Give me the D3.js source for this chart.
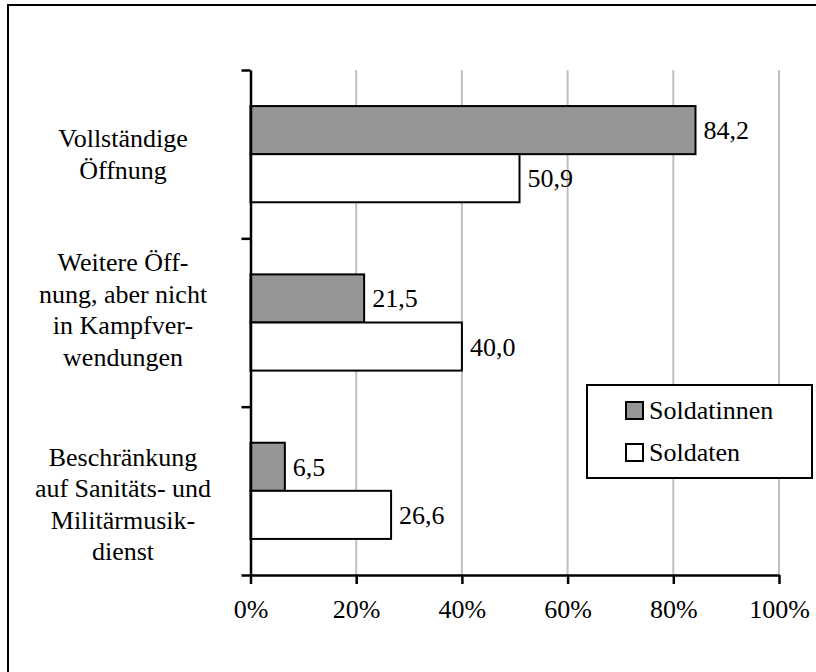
<!DOCTYPE html>
<html>
<head>
<meta charset="utf-8">
<script src="https://cdn.jsdelivr.net/npm/d3@7"></script>
</head>
<body style="margin:0">
<script>
// data
var categories = ["Vollständige Öffnung", "Weitere Öffnung", "Beschränkung"];
var categoryLines = [
  ["Vollständige", "Öffnung"],
  ["Weitere Öff-", "nung, aber nicht", "in Kampfver-", "wendungen"],
  ["Beschränkung", "auf Sanitäts- und", "Militärmusik-", "dienst"]
];
var seriesNames = ["Soldatinnen", "Soldaten"];
var soldatinnen = [84.2, 21.5, 6.5];
var soldaten = [50.9, 40.0, 26.6];
var xTicks = [0, 20, 40, 60, 80, 100];

var seriesColors = ["#969696", "#ffffff"];
var labelShift = [0, -13, 13];   // excel puts the long labels a bit off centre

var width = 816, height = 672;
var plot = {left: 250.5, right: 779, top: 70, bottom: 575};
var fontSize = 26, lineH = 31.5;

function serifText(sel) {
  sel.style("font-family", '"Times New Roman"')
    .style("font-size", fontSize + "px");
}

var svg = d3.select("body").append("svg")
  .attr("width", width)
  .attr("height", height);

// outer frame (only top and left edge are in the picture)
svg.append("rect")
  .attr("x", 8).attr("y", 5)
  .attr("width", 900).attr("height", 800)
  .attr("fill", "#fff")
  .attr("stroke", "#000")
  .attr("stroke-width", 2);

var xScale = d3.scaleLinear()
  .domain([0, 100])
  .range([plot.left, plot.right]);

var yScale = d3.scaleBand()
  .domain(categories)
  .range([plot.top, plot.bottom]);

var ySub = d3.scaleBand()
  .domain(seriesNames)
  .range([0, yScale.bandwidth()])
  .paddingOuter(0.75);

// gridlines
svg.append("g").selectAll("line")
  .data(xTicks.slice(1))
  .enter().append("line")
    .attr("x1", function(d) { return xScale(d); })
    .attr("x2", function(d) { return xScale(d); })
    .attr("y1", plot.top)
    .attr("y2", plot.bottom)
    .attr("stroke", "#c0c0c0")
    .attr("stroke-width", 2);

var data = [];
for (i = 0; i < categories.length; i++) {
  data.push({cat: categories[i], series: seriesNames[0], value: soldatinnen[i], color: seriesColors[0]});
  data.push({cat: categories[i], series: seriesNames[1], value: soldaten[i], color: seriesColors[1]});
}

function fmt(v) { return v.toFixed(1).replace(".", ","); }

svg.append("g").selectAll("rect.bar")
  .data(data)
  .enter().append("rect")
    .attr("class", "bar")
    .attr("x", xScale(0))
    .attr("y", function(d) { return yScale(d.cat) + ySub(d.series); })
    .attr("width", function(d) { return xScale(d.value) - xScale(0); })
    .attr("height", ySub.bandwidth())
    .attr("fill", function(d) { return d.color; })
    .attr("stroke", "#000")
    .attr("stroke-width", 2);

svg.append("g").selectAll("text")
  .data(data)
  .enter().append("text")
    .attr("x", function(d) { return xScale(d.value) + 8; })
    .attr("y", function(d) { return yScale(d.cat) + ySub(d.series) + ySub.bandwidth() / 2 + 9; })
    .call(serifText)
    .text(function(d) { return fmt(d.value); });

// x axis
var xAxis = svg.append("g")
  .attr("transform", "translate(0," + plot.bottom + ")")
  .call(d3.axisBottom(xScale)
    .tickValues(xTicks)
    .tickSize(9)
    .tickSizeOuter(0)
    .tickPadding(16)
    .tickFormat(function(d) { return d + "%"; }));
xAxis.select(".domain").attr("stroke-width", 2.5);
xAxis.selectAll(".tick line").attr("stroke-width", 2.5);
xAxis.selectAll("text").call(serifText);

// y axis, ticks sit on the category borders
var yEdge = d3.scaleLinear()
  .domain([0, categories.length])
  .range([plot.bottom, plot.top]);
var yAxis = svg.append("g")
  .attr("transform", "translate(" + plot.left + ",0)")
  .call(d3.axisLeft(yEdge)
    .ticks(categories.length)
    .tickSize(9)
    .tickSizeOuter(0)
    .tickFormat(""));
yAxis.select(".domain").attr("stroke-width", 2.5);
yAxis.selectAll(".tick line").attr("stroke-width", 2.5);

// category labels, one text per line
var catG = svg.append("g").selectAll("g")
  .data(categories)
  .enter().append("g");
catG.each(function(d, i) {
  var lines = categoryLines[i];
  var mid = yScale(d) + yScale.bandwidth() / 2 + labelShift[i];
  var top = mid - (lines.length - 1) * lineH / 2;
  d3.select(this).selectAll("text")
    .data(lines)
    .enter().append("text")
      .attr("x", 123)
      .attr("y", function(l, j) { return top + j * lineH + 9; })
      .attr("text-anchor", "middle")
      .call(serifText)
      .text(function(l) { return l; });
});

// legend
var legend = svg.append("g").attr("transform", "translate(587,385)");
legend.append("rect")
  .attr("width", 225)
  .attr("height", 93)
  .attr("fill", "#fff")
  .attr("stroke", "#000")
  .attr("stroke-width", 2);
var items = legend.selectAll("g.item")
  .data(seriesNames)
  .enter().append("g")
    .attr("class", "item")
    .attr("transform", function(d, i) { return "translate(39," + (25 + i * 42) + ")"; });
items.append("rect")
  .attr("x", 0).attr("y", -8)
  .attr("width", 17).attr("height", 17)
  .attr("fill", function(d, i) { return seriesColors[i]; })
  .attr("stroke", "#000")
  .attr("stroke-width", 2);
items.append("text")
  .attr("x", 23)
  .attr("y", 9)
  .call(serifText)
  .text(function(d) { return d; });
</script>
</body>
</html>
